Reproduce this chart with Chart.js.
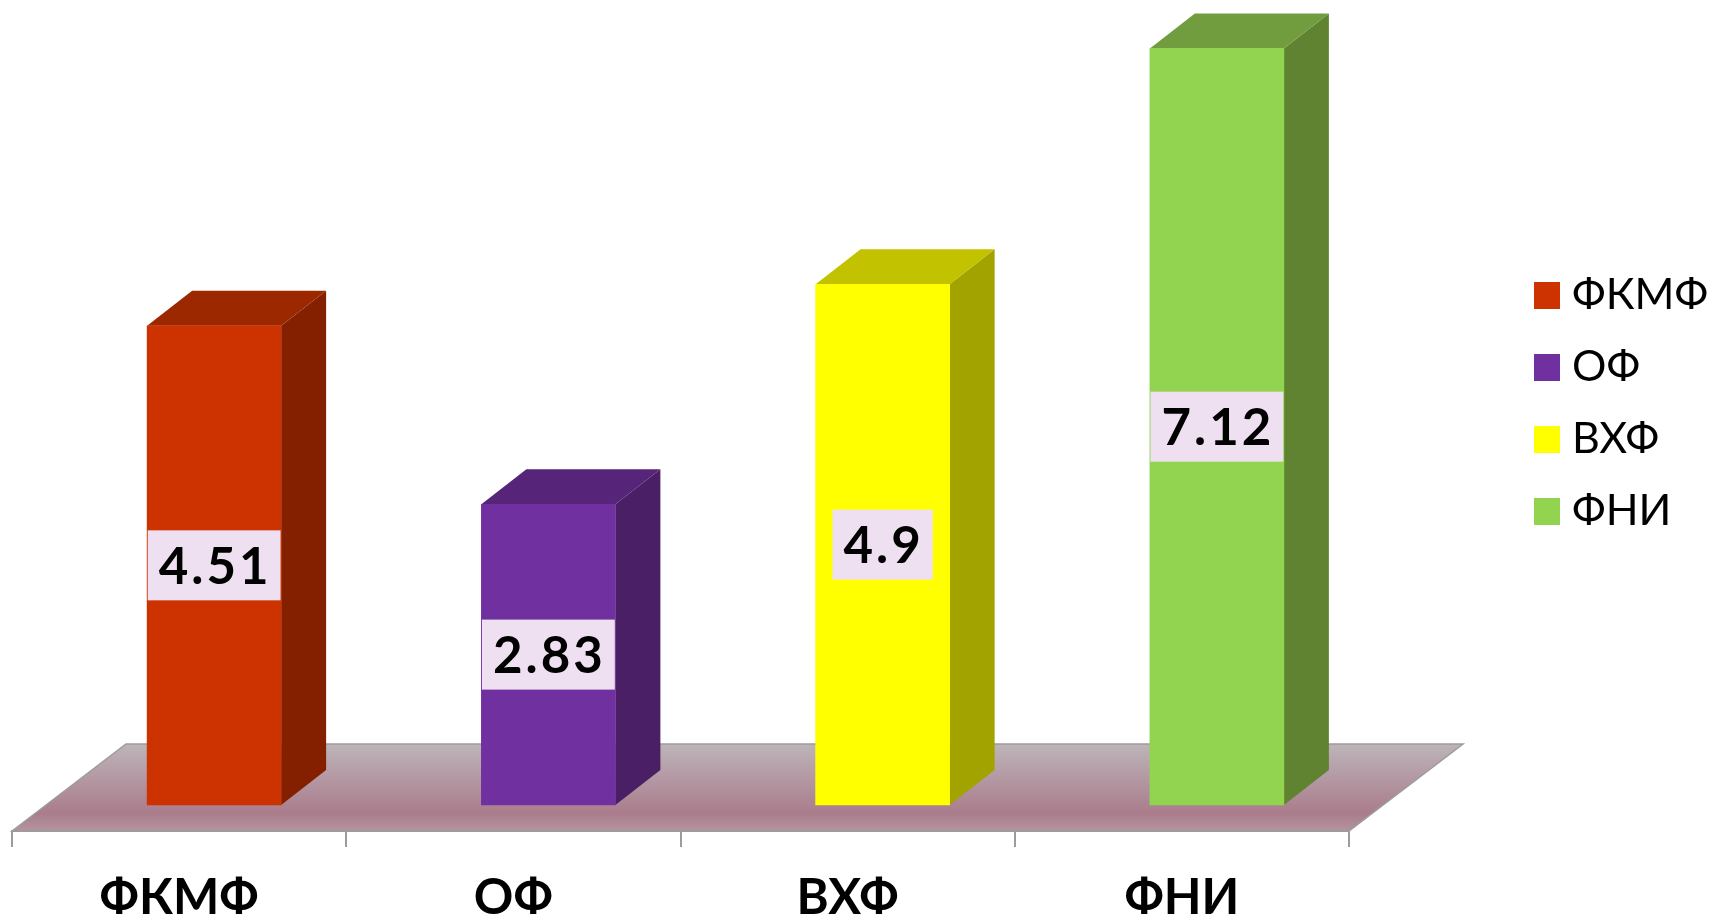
<!DOCTYPE html>
<html>
<head>
<meta charset="utf-8">
<style>
  html, body { margin: 0; padding: 0; background: #fff; }
  canvas { display: block; }
</style>
<script src="https://cdn.jsdelivr.net/npm/chart.js@4"></script>
</head>
<body>
<canvas id="chart" width="1712" height="920"></canvas>
<script>
// DATA
const categories = ["ФКМФ", "ОФ", "ВХФ", "ФНИ"];
const values = [4.51, 2.83, 4.9, 7.12];

// COLORS (front, side, top of each bar)
const frontColors = ["#cc3300", "#7030a0", "#ffff00", "#92d350"];
const sideColors = ["#842000", "#4a1f66", "#a3a300", "#5f8330"];
const topColors = ["#9c2800", "#562478", "#c2c200", "#719d3e"];

const FONT = "Lato, 'Noto Sans', sans-serif";

// bars stand further back on the floor than the axis line
const BAR_SHIFT_X = 35;
const BAR_DEPTH_X = 45;
const BAR_DEPTH_Y = 35;
const FLOOR_DEPTH_X = 114;
const FLOOR_DEPTH_Y = 87;

// FLOOR + 3D SIDES
const depthPlugin = {
    id: "depth",
    beforeDatasetsDraw(chart) {
        const ctx = chart.ctx;
        const x = chart.scales.x;
        const front = x.bottom - x.height;

        const grad = ctx.createLinearGradient(0, front - FLOOR_DEPTH_Y, 0, front);
        grad.addColorStop(0, "#bdb4b9");
        grad.addColorStop(0.8, "#aa7c8c");
        grad.addColorStop(1, "#b3959f");

        ctx.save();
        ctx.beginPath();
        ctx.moveTo(x.left, front);
        ctx.lineTo(x.left + FLOOR_DEPTH_X, front - FLOOR_DEPTH_Y);
        ctx.lineTo(x.right + FLOOR_DEPTH_X, front - FLOOR_DEPTH_Y);
        ctx.lineTo(x.right, front);
        ctx.closePath();
        ctx.fillStyle = grad;
        ctx.fill();
        ctx.strokeStyle = "#9c9c9c";
        ctx.lineWidth = 1.5;
        ctx.stroke();
        ctx.restore();

        // front faces get drawn by chart.js after this, shifted too
        ctx.save();
        ctx.translate(BAR_SHIFT_X, 0);
        chart.getDatasetMeta(0).data.forEach((bar, i) => {
            const right = bar.x + bar.width / 2;
            const left = bar.x - bar.width / 2;

            ctx.fillStyle = sideColors[i];
            ctx.beginPath();
            ctx.moveTo(right, bar.y);
            ctx.lineTo(right + BAR_DEPTH_X, bar.y - BAR_DEPTH_Y);
            ctx.lineTo(right + BAR_DEPTH_X, bar.base - BAR_DEPTH_Y);
            ctx.lineTo(right, bar.base);
            ctx.closePath();
            ctx.fill();

            ctx.fillStyle = topColors[i];
            ctx.beginPath();
            ctx.moveTo(left, bar.y);
            ctx.lineTo(left + BAR_DEPTH_X, bar.y - BAR_DEPTH_Y);
            ctx.lineTo(right + BAR_DEPTH_X, bar.y - BAR_DEPTH_Y);
            ctx.lineTo(right, bar.y);
            ctx.closePath();
            ctx.fill();
        });
    },
    afterDatasetsDraw(chart) {
        const ctx = chart.ctx;

        // VALUE LABELS
        ctx.font = "bold 51px " + FONT;
        ctx.letterSpacing = "3px";
        ctx.textAlign = "center";
        ctx.textBaseline = "middle";
        chart.getDatasetMeta(0).data.forEach((bar, i) => {
            const label = String(values[i]);
            const w = ctx.measureText(label).width + 20;
            const cy = (bar.y + bar.base) / 2;
            ctx.fillStyle = "#eee0f0";
            ctx.fillRect(bar.x - w / 2, cy - 35, w, 70);
            ctx.fillStyle = "#000";
            ctx.fillText(label, bar.x + 1, cy + 2);
        });
        ctx.restore();
    }
};

// LEGEND
const legendPlugin = {
    id: "sideLegend",
    afterDraw(chart) {
        const ctx = chart.ctx;
        ctx.save();
        ctx.font = "43px " + FONT;
        ctx.textBaseline = "middle";
        categories.forEach((name, i) => {
            const cy = 295 + i * 72;
            ctx.fillStyle = frontColors[i];
            ctx.fillRect(1534, cy - 13, 26, 27);
            ctx.fillStyle = "#000";
            ctx.fillText(name, 1572, cy);
        });
        ctx.restore();
    }
};

new Chart(document.getElementById("chart"), {
    type: "bar",
    data: {
        labels: categories,
        datasets: [{
            data: values,
            backgroundColor: frontColors,
            barThickness: 134,
            clip: false
        }]
    },
    options: {
        responsive: false,
        animation: false,
        devicePixelRatio: 1,
        layout: { padding: { left: 12, right: 363, top: 8, bottom: 0 } },
        plugins: {
            legend: { display: false },
            tooltip: { enabled: false }
        },
        scales: {
            x: {
                afterFit(scale) { scale.height = 89; },
                border: { color: "#9c9c9c", width: 2 },
                grid: { drawOnChartArea: false, color: "#9c9c9c", lineWidth: 2, tickLength: 16 },
                ticks: {
                    color: "#000",
                    padding: 22,
                    maxRotation: 0,
                    font: { family: FONT, size: 49, weight: "bold" }
                }
            },
            y: {
                display: false,
                min: -0.245,
                max: 7.5
            }
        }
    },
    plugins: [depthPlugin, legendPlugin]
});
</script>
</body>
</html>
